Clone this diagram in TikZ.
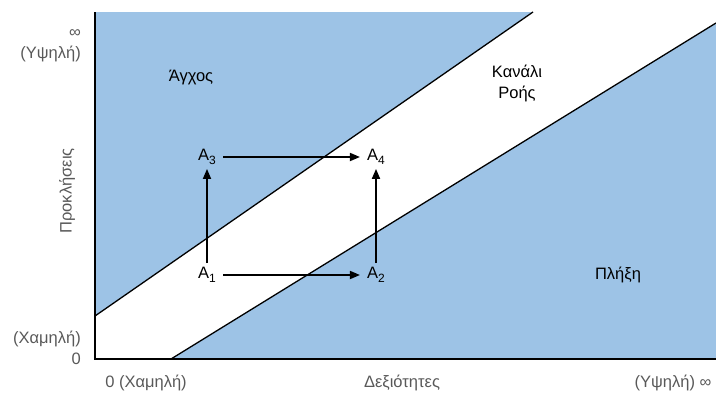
\documentclass[tikz,border=0pt]{standalone}
\usepackage{fontspec}
\setmainfont{Liberation Sans}
\usetikzlibrary{arrows.meta}
\definecolor{zonefill}{HTML}{9DC3E6}
\definecolor{axistext}{HTML}{595959}
\newcommand{\stateA}[1]{A\raisebox{-4pt}{\fontsize{12}{12}\selectfont#1}}

\begin{document}
\begin{tikzpicture}[
  x=1pt, y=-1pt,
  font=\fontsize{16.5}{21}\selectfont,
  >={Triangle[length=10pt,width=8pt]},
  move/.style={->, draw=black, line width=1.7pt},
  border/.style={draw=black, line width=1.3pt},
  axis/.style={draw=black, line width=2.6pt},
  state/.style={inner xsep=7pt, inner ysep=4pt},
  zone/.style={align=center, text=black},
  axislabel/.style={text=axistext, align=right, inner sep=0pt}
]
\useasboundingbox (0,0) rectangle (716,394);

% Plot frame and the two channel boundaries.
\coordinate (origin) at (95,359);
\coordinate (topLeft) at (95,12);
\coordinate (topRight) at (716,12);
\coordinate (bottomRight) at (716,359);
\coordinate (upperStart) at (95,316);
\coordinate (upperEnd) at (533,12);
\coordinate (lowerStart) at (171,359);
\coordinate (lowerEnd) at (716,23);

\fill[zonefill] (origin) rectangle (topRight);
\fill[white] (upperStart) -- (upperEnd) -- (topRight) -- (lowerEnd)
  -- (lowerStart) -- (origin) -- cycle;
\draw[border] (upperStart) -- (upperEnd);
\draw[border] (lowerStart) -- (lowerEnd);
\draw[axis] (topLeft) -- (origin) -- (bottomRight);

% Zone names.
\node[zone] (anxiety) at (191,78) {Άγχος};
\node[zone] (flow) at (517,83) {Κανάλι\\Ροής};
\node[zone] (boredom) at (618,275) {Πλήξη};

% States and moves between them.
\node[state] (stateA1) at (207,275) {\stateA{1}};
\node[state] (stateA2) at (376,275) {\stateA{2}};
\node[state] (stateA3) at (207,157) {\stateA{3}};
\node[state] (stateA4) at (376,157) {\stateA{4}};
\draw[move] (stateA1) -- (stateA2);
\draw[move] (stateA3) -- (stateA4);
\draw[move] (stateA1) -- (stateA3);
\draw[move] (stateA2) -- (stateA4);

% Axis labels.
\node[axislabel, anchor=east] (yHigh) at (81,46) {∞\\(Υψηλή)};
\node[axislabel, anchor=east] (yLow) at (81,348) {(Χαμηλή)\\0};
\node[axislabel, rotate=90] (yTitle) at (67,191) {Προκλήσεις};
\node[axislabel] (xLow) at (146,383) {0 (Χαμηλή)};
\node[axislabel] (xTitle) at (402,383) {Δεξιότητες};
\node[axislabel] (xHigh) at (673,383) {(Υψηλή) ∞};

\end{tikzpicture}
\end{document}
